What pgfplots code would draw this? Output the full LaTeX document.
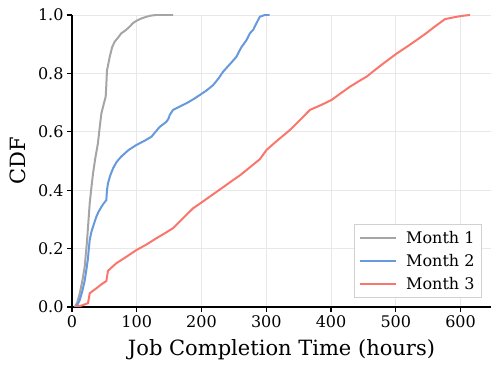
\documentclass[border=0pt]{standalone}
\usepackage{fontspec}
\setmainfont{DejaVu Serif}
\usepackage{pgfplots}
\pgfplotsset{compat=1.18}
\definecolor{mgray}{RGB}{165,165,165}
\definecolor{mblue}{RGB}{102,153,221}
\definecolor{mred}{RGB}{250,118,108}
\begin{document}
\begin{tikzpicture}
\useasboundingbox (-72pt,-62pt) rectangle (427pt,307pt);
\begin{axis}[
    scale only axis,
    width=419pt, height=292pt,
    xmin=0, xmax=647, ymin=0, ymax=1,
    axis x line=bottom, axis y line=left,
    axis line style={line width=1.8pt, -},
    tick align=outside,
    major tick length=5pt,
    tick style={black, line width=1.3pt},
    xtick={0,100,...,600},
    ytick={0,0.2,...,1.0},
    yticklabel style={/pgf/number format/fixed, /pgf/number format/precision=1, /pgf/number format/fixed zerofill},
    /pgf/number format/assume math mode=true,
    ticklabel style={font=\fontsize{16}{18}\selectfont},
    grid=major,
    major grid style={line width=0.6pt, draw=black!9},
    xlabel={Job Completion Time (hours)},
    ylabel={CDF},
    label style={font=\fontsize{21}{24}\selectfont},
    xlabel style={at={(axis description cs:0.5,-0.147)}, anchor=center},
    ylabel style={at={(axis description cs:-0.129,0.5)}, anchor=center},
    legend style={at={(1,0)}, anchor=south east, xshift=-9pt, yshift=9pt,
        draw=black!18, line width=0.9pt,
        font=\fontsize{16}{19}\selectfont, row sep=5pt, column sep=7pt,
        inner xsep=5pt, inner ysep=5pt},
    legend cell align=left,
    legend image code/.code={\draw[#1, line width=2pt] (0pt,0pt) -- (36pt,0pt);},
    every axis plot/.append style={line width=2pt},
]
\addplot[color=mgray, line width=2pt] coordinates {
(4.2,0) (8,0.015) (12,0.047) (16,0.09) (19.6,0.138) (23,0.22) (27.4,0.356) (30,0.41)
(32.5,0.458) (36,0.51) (40,0.56) (43,0.62) (45.4,0.663) (49,0.695) (52,0.72) (53,0.76)
(54,0.81) (58.3,0.857) (62,0.89) (66,0.909) (71,0.922) (76,0.937) (83,0.948) (89,0.96)
(94,0.972) (99.5,0.98) (107,0.988) (115,0.994) (122,0.998) (130,1.0) (156,1.0)
};
\addlegendentry{Month 1}
\addplot[color=mblue, line width=2pt] coordinates {
(5.7,0) (9,0.01) (12,0.024) (16,0.055) (19.6,0.09) (22,0.125) (24.7,0.167) (26,0.2)
(27.4,0.23) (30,0.258) (34,0.285) (37.7,0.31) (41,0.326) (45.4,0.343) (49,0.355) (53,0.366)
(54,0.4) (55.6,0.424) (59,0.45) (63.4,0.475) (69,0.497) (76,0.515) (87,0.537) (99.5,0.555)
(111,0.568) (122.7,0.583) (129,0.6) (135.5,0.617) (141,0.626) (146,0.635) (149,0.645)
(151,0.658) (156,0.675) (166,0.686) (177,0.698) (187,0.711) (197.4,0.726) (208,0.742)
(218,0.76) (226,0.782) (233.4,0.806) (244,0.832) (254,0.857) (258,0.875) (262,0.891)
(269.5,0.914) (274.6,0.937) (280,0.95) (284,0.968) (290,0.994) (297.8,1.0) (305,1.0)
};
\addlegendentry{Month 2}
\addplot[color=mred, line width=2pt] coordinates {
(4.2,0) (15,0.005) (24.7,0.013) (27.4,0.047) (32,0.055) (37.7,0.064) (45,0.077) (53,0.089)
(55.6,0.124) (62,0.137) (68.6,0.15) (84,0.172) (99.5,0.195) (115,0.214) (130,0.235)
(143,0.252) (156,0.27) (165,0.29) (175,0.312) (187,0.338) (200,0.358) (212.8,0.378)
(230,0.405) (249,0.435) (260,0.452) (269.5,0.469) (280,0.488) (290,0.506) (300.5,0.538)
(318,0.572) (336.5,0.606) (352,0.64) (367.4,0.675) (385,0.692) (400.8,0.709) (415,0.732)
(429,0.754) (442,0.772) (455,0.789) (468,0.812) (480.8,0.834) (491,0.851) (501.4,0.868)
(517,0.891) (532,0.914) (546,0.936) (560,0.96) (576,0.986) (594,0.994) (606,0.998)
(614.7,1.0)
};
\addlegendentry{Month 3}
\end{axis}
\end{tikzpicture}
\end{document}
